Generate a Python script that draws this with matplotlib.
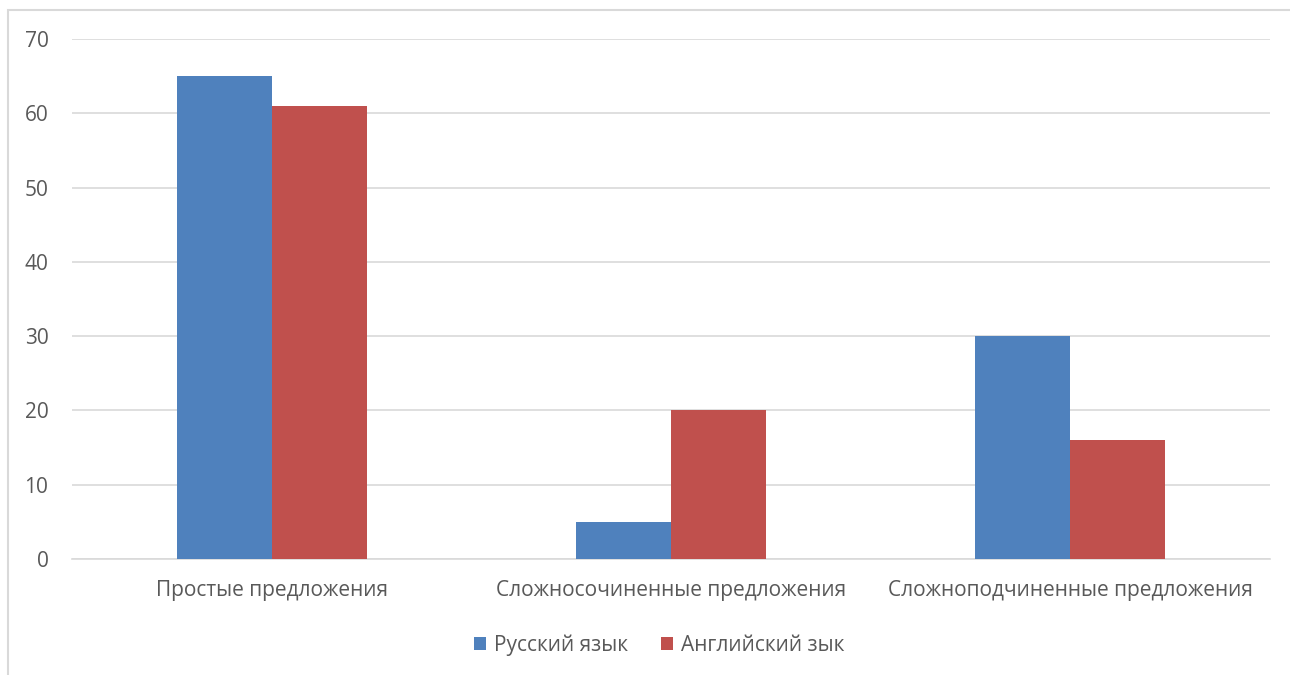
import numpy as np
import matplotlib.pyplot as plt
from matplotlib.patches import Rectangle

# Data
categories = ["Простые предложения", "Сложносочиненные предложения", "Сложноподчиненные предложения"]
russian = [65, 5, 30]
english = [61, 20, 16]
series_names = ["Русский язык", "Английский зык"]

plt.rcParams['font.family'] = ['Open Sans', 'DejaVu Sans']
text_col = "#595959"

fig = plt.figure(figsize=(12.9, 6.75), dpi=100)
# light frame around the chart area (only left and top edges fall inside the image)
fig.patches.append(Rectangle((8/1290, -0.05), 1.2, 1 - 10/675 + 0.05, transform=fig.transFigure,
                             fill=False, edgecolor="#D9D9D9", linewidth=1.5))
ax = fig.add_axes([72/1290, 1 - 559/675, 1198/1290, 520/675])

x = np.arange(len(categories))
w = 0.238
ax.bar(x - w/2, russian, w, color="#4F81BD", label=series_names[0], zorder=3)
ax.bar(x + w/2, english, w, color="#C0504D", label=series_names[1], zorder=3)

ax.set_xlim(-0.5, 2.5)
ax.set_ylim(0, 70)
ax.set_yticks(range(0, 71, 10))
ax.yaxis.grid(True, color="#D9D9D9", linewidth=1.2, zorder=0)
ax.set_xticks(x)
ax.set_xticklabels(categories)
ax.tick_params(axis='both', length=0, labelsize=15, colors=text_col)
ax.tick_params(axis='y', pad=17)
ax.tick_params(axis='x', pad=15)
for s in ["top", "right", "left"]:
    ax.spines[s].set_visible(False)
ax.spines["bottom"].set_color("#D9D9D9")
ax.spines["bottom"].set_linewidth(1.2)

leg = ax.legend(loc="center", bbox_to_anchor=(0.49, -0.165), ncol=2, frameon=False,
                fontsize=15, handlelength=0.6, handleheight=0.6, columnspacing=1.6, handletextpad=0.35)
for t in leg.get_texts():
    t.set_color(text_col)

fig.savefig("out.png", dpi=100)
